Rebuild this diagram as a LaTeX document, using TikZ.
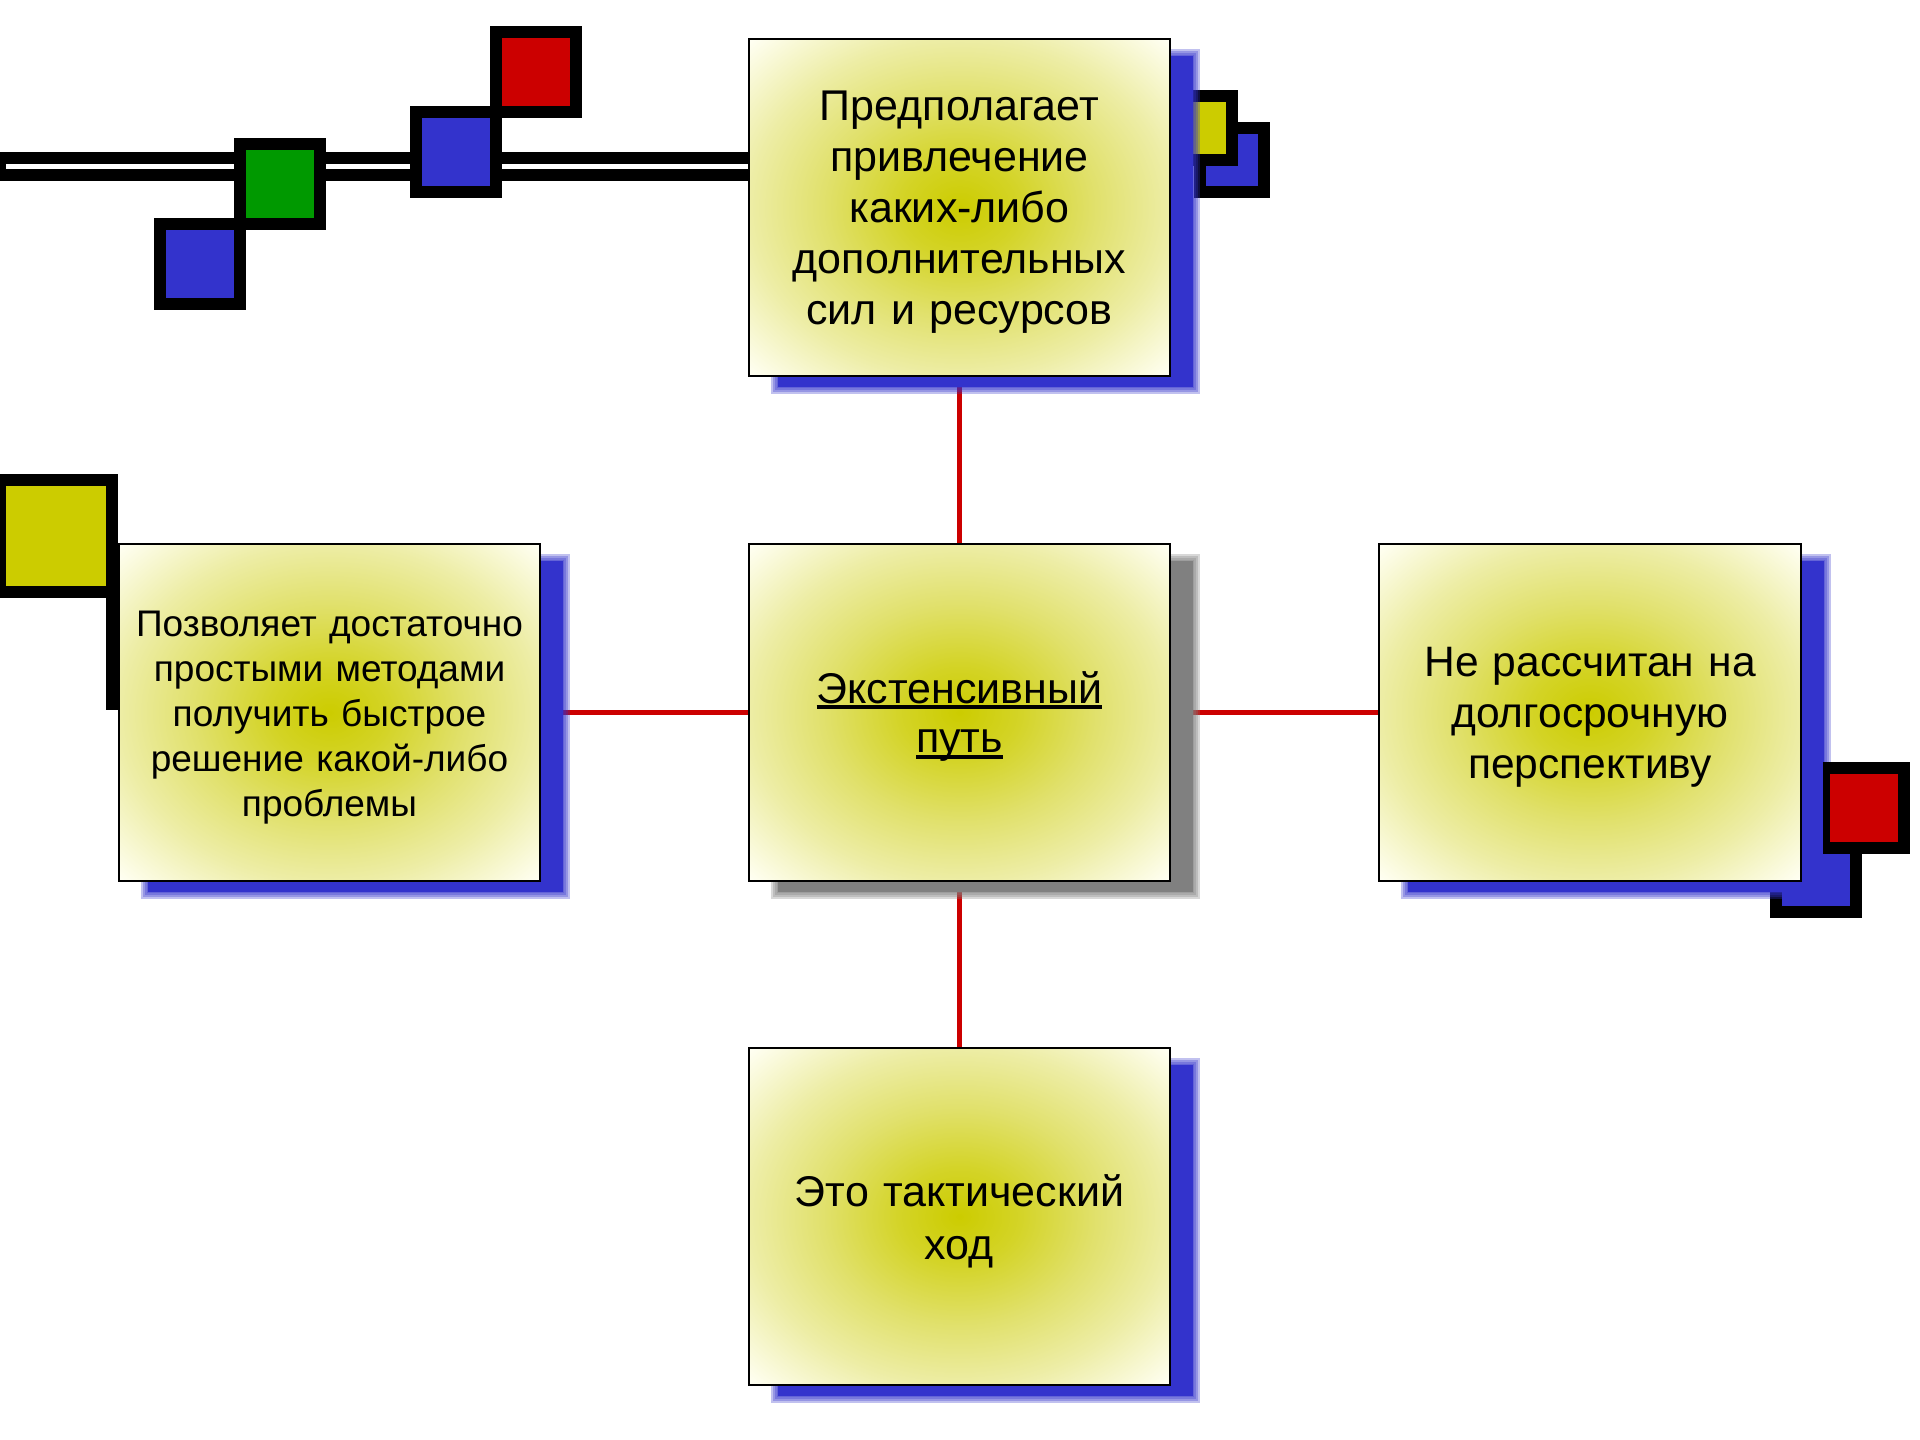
\documentclass[tikz,border=0pt]{standalone}
\usepackage{fontspec}
\setmainfont{Liberation Sans}
\usetikzlibrary{calc}
\pgfdeclarelayer{bg}
\pgfdeclarelayer{shadowlayer}
\pgfdeclarelayer{fg}
\pgfsetlayers{bg,shadowlayer,main,fg}
\pgfdeclareradialshading{boxshade}{\pgfpoint{0bp}{0bp}}{rgb(0bp)=(0.8,0.8,0); rgb(7bp)=(0.83,0.83,0.15); rgb(16bp)=(0.88,0.88,0.42); rgb(25bp)=(0.93,0.93,0.65); rgb(35bp)=(1,1,0.95); rgb(50bp)=(1,1,1)}
\definecolor{sqblue}{RGB}{51,51,204}
\definecolor{sqred}{RGB}{204,0,0}
\definecolor{sqgreen}{RGB}{0,153,0}
\definecolor{sqyellow}{RGB}{204,204,0}
\definecolor{linered}{RGB}{204,0,0}
\definecolor{shadowgray}{RGB}{128,128,128}
\newcommand{\myul}[1]{\mbox{\sbox0{#1}\rlap{\rule[-1.7pt]{\wd0}{1.1pt}}\usebox0}}
\newcommand{\decosq}[5]{%
  \fill[black] (#1,#2) rectangle ++(#3,#3);
  \fill[#5] ({#1+#4},{#2+#4}) rectangle ({#1+#3-#4},{#2+#3-#4});}
\newcommand{\boxshadow}[2]{%
  \begin{pgfonlayer}{shadowlayer}
    \fill[#2] ($(#1.north west)+(30,18)$) rectangle ($(#1.south east)+(22,10)$);
    \foreach \e in {1,3,5,7}{
      \fill[#2, opacity=0.3] ($(#1.north west)+({30-\e},{18-\e})$) rectangle ($(#1.south east)+({22+\e},{10+\e})$);
    }
  \end{pgfonlayer}}
\tikzset{
  infobox/.style={rectangle, draw=black, line width=0.6pt, shading=boxshade,
    minimum width=4.21cm, minimum height=3.37cm, inner sep=0pt},
  boxtext/.style={inner sep=0pt, align=center, text width=4.1cm,
    font=\fontsize{12.23pt}{14.5pt}\selectfont},
  connector/.style={draw=linered, line width=1.6pt}
}
\begin{document}
\begin{tikzpicture}[x=0.01cm, y=-0.01cm]
\begin{pgfonlayer}{bg}
\fill[white] (0,0) rectangle (1920,1440);
\end{pgfonlayer}
\useasboundingbox (0,0) rectangle (1920,1440);

% boxes
\node[infobox] (top) at (959.5,207.5) {};
\node[infobox] (left) at (329.5,712.5) {};
\node[infobox] (center) at (959.5,712.5) {};
\node[infobox] (right) at (1590,712.5) {};
\node[infobox] (bottom) at (959.5,1216.5) {};

\node[boxtext] (toptext) at ($(top.center)+(0,5)$) {Предполагает\\привлечение\\каких-либо\\дополнительных\\сил и ресурсов};
\node[boxtext, font=\fontsize{10.53pt}{12.8pt}\selectfont] (lefttext) at ($(left.center)+(0,5)$) {Позволяет достаточно\\простыми методами\\получить быстрое\\решение какой-либо\\проблемы};
\node[boxtext, font=\fontsize{12.23pt}{14.2pt}\selectfont] (centertext) at ($(center.center)+(0,4)$) {\myul{Экстенсивный}\\\myul{путь}};
\node[boxtext, font=\fontsize{12.1pt}{14.5pt}\selectfont] (righttext) at ($(right.center)+(0,5)$) {Не рассчитан на\\долгосрочную\\перспективу};
\node[boxtext, font=\fontsize{12.23pt}{15.1pt}\selectfont] (bottomtext) at ($(bottom.center)+(0,5)$) {Это тактический\\ход};

% shadows
\boxshadow{top}{sqblue}
\boxshadow{left}{sqblue}
\boxshadow{center}{shadowgray}
\boxshadow{right}{sqblue}
\boxshadow{bottom}{sqblue}

% connectors and background decorations
\begin{pgfonlayer}{bg}
  \draw[connector] (center) -- (top);
  \draw[connector] (center) -- (left);
  \draw[connector] (center) -- (right);
  \draw[connector] (center) -- (bottom);
  % top-left double line
  \fill[black] (0,152) rectangle (749,181);
  \fill[white] (6,164) rectangle (749,169);
  \decosq{154}{218}{92}{12}{sqblue}
  \decosq{234}{138}{92}{12}{sqgreen}
  \decosq{410}{106}{92}{12}{sqblue}
  \decosq{490}{26}{92}{12}{sqred}
  % top-right small squares
  \decosq{1194}{122}{76}{12}{sqblue}
  \decosq{1162}{90}{76}{12}{sqyellow}
  % left squares
  \decosq{106}{586}{124}{12}{sqblue}
  \decosq{-6}{474}{124}{12}{sqyellow}
  % right blue square
  \decosq{1770}{826}{92}{12}{sqblue}
\end{pgfonlayer}
\begin{pgfonlayer}{fg}
  \fill[black] (1823,762) rectangle (1910,854);
  \fill[sqred] (1830,774) rectangle (1898,842);
\end{pgfonlayer}
\end{tikzpicture}
\end{document}
